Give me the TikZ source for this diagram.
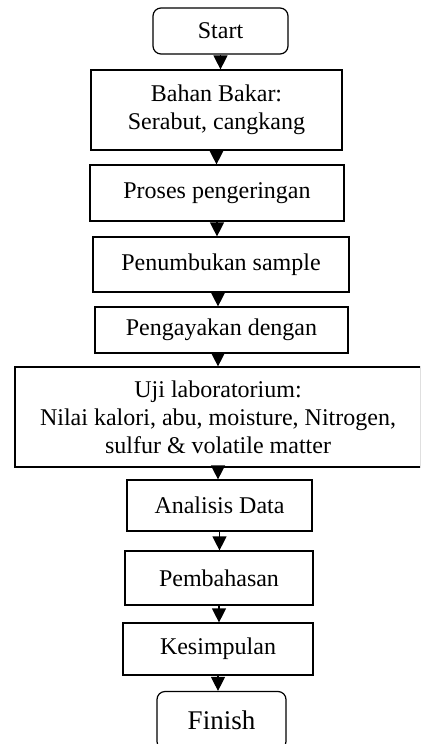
\documentclass[tikz,border=0pt]{standalone}
\usepackage{fontspec}
\setmainfont{Liberation Serif}
\usetikzlibrary{arrows.meta}

\begin{document}
\begin{tikzpicture}[x=0.5pt, y=-0.5pt,
    box/.style={draw, line width=0.6pt, align=center, inner sep=0pt,
        font=\fontsize{12}{14}\selectfont},
    term/.style={box, rounded corners=4pt},
    arr/.style={-{Triangle[width=7pt, length=7pt]}, line width=0.6pt}]
    \useasboundingbox (0, 0) rectangle (420, 744);
    \clip (0, 0) rectangle (420, 744);

    \node [term, minimum width=67.5pt, minimum height=23pt] (start) at (220.5, 31) {Start};
    \node [box, minimum width=125.5pt, minimum height=40pt] (bahan) at (216.5, 110) {Bahan Bakar:\\Serabut, cangkang};
    \node [box, minimum width=127pt, minimum height=28pt] (proses) at (217, 193) {Proses pengeringan};
    \node [box, minimum width=128pt, minimum height=27.5pt] (tumbuk) at (221, 264.5) {Penumbukan sample};
    \node [box, minimum width=126.5pt, minimum height=23pt] (ayak) at (221.5, 330) {Pengayakan dengan};
    \node [box, minimum width=203pt, minimum height=50pt] (uji) at (218, 417) {Uji laboratorium:\\Nilai kalori, abu, moisture, Nitrogen,\\sulfur \& volatile matter};
    \node [box, minimum width=92.5pt, minimum height=25.5pt] (analisis) at (219.5, 505.5) {Analisis Data};
    \node [box, minimum width=94pt, minimum height=27pt] (bahas) at (219, 578) {Pembahasan};
    \node [box, minimum width=95pt, minimum height=26pt] (simpul) at (218, 649) {Kesimpulan};
    \node [term, minimum width=64.5pt, minimum height=29pt, font=\fontsize{13.5}{15}\selectfont] (finish) at (221.5, 720.5) {Finish};

    \draw [arr] (start.south) -- (start.south |- bahan.north);
    \draw [arr] (bahan.south) -- (bahan.south |- proses.north);
    \draw [arr] (proses.south) -- (proses.south |- tumbuk.north);
    \draw [arr] (tumbuk.south -| uji.south) -- (uji.south |- ayak.north);
    \draw [arr] (ayak.south -| uji.south) -- (uji.south |- uji.north);
    \draw [arr] (uji.south) -- (uji.south |- analisis.north);
    \draw [arr] (analisis.south) -- (analisis.south |- bahas.north);
    \draw [arr] (bahas.south) -- (bahas.south |- simpul.north);
    \draw [arr] (simpul.south) -- (simpul.south |- finish.north);
\end{tikzpicture}
\end{document}
